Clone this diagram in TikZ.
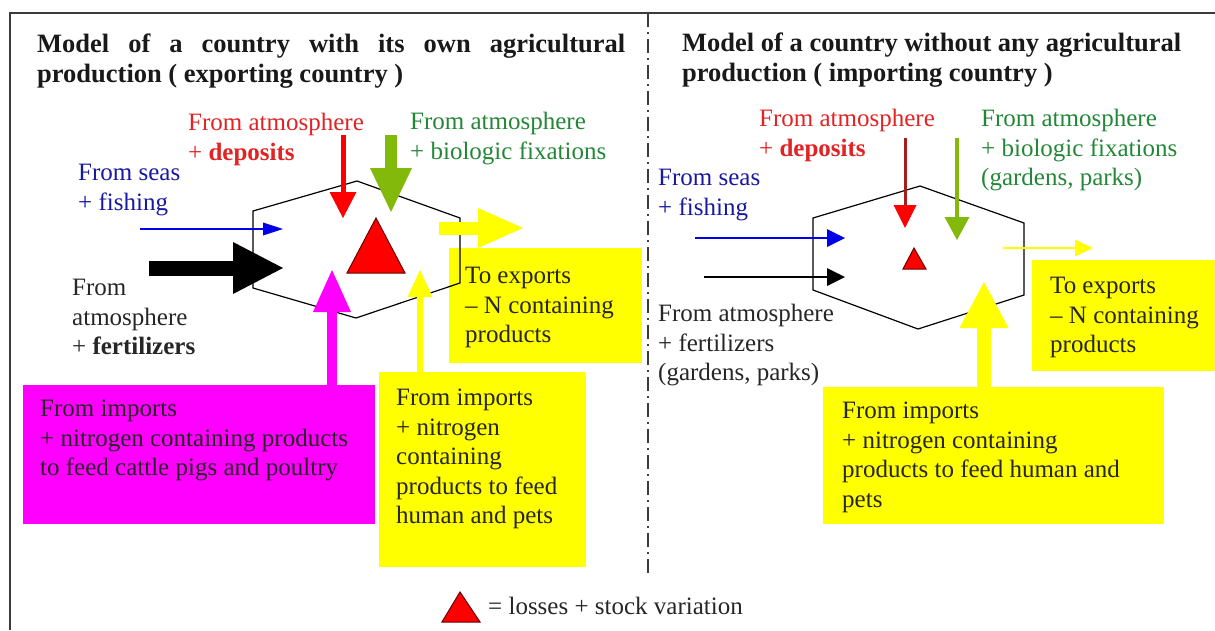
\documentclass[tikz,border=0pt]{standalone}
\usepackage{fontspec}
\setmainfont{Liberation Serif}
\usetikzlibrary{arrows.meta,positioning,calc}
\definecolor{txtred}{RGB}{225,35,35}
\definecolor{txtgreen}{RGB}{35,135,55}
\definecolor{txtblue}{RGB}{25,25,160}
\definecolor{arrgreen}{RGB}{130,185,10}
\definecolor{arrblue}{RGB}{0,0,235}
\definecolor{darkred}{RGB}{165,30,30}
\definecolor{boxyellow}{RGB}{255,255,0}
\definecolor{boxmagenta}{RGB}{255,0,255}
\definecolor{framegray}{RGB}{60,60,60}

\begin{document}
\begin{tikzpicture}[x=1pt,y=-1pt,
    lbl/.style={inner sep=0pt, anchor=north west, align=left, text=black!85,
        font=\fontsize{25}{29.5}\selectfont},
    ttl/.style={inner sep=0pt, anchor=north west, align=left, text=black!90,
        font=\fontsize{26.5}{29.5}\selectfont\bfseries},
    box/.style={inner sep=0pt, anchor=north west, fill=#1},
    hexa/.style={draw=black, line width=1.2pt, line join=miter},
    losstri/.style={fill=red, draw=black!60!red, line width=1pt}]
\useasboundingbox (0,0) rectangle (1215,630);

% frame and divider
\draw[framegray, line width=2pt] (10,630) -- (10,13) -- (1215,13);
\draw[framegray, line width=2pt, dash pattern=on 14pt off 5pt on 2pt off 5pt] (648,13) -- (648,575);

% titles
\node[ttl] (lTitle) at (37,34) {\makebox[588pt][s]{Model of a country with its own agricultural}\\production ( exporting country )};
\node[ttl] (rTitle) at (682,33) {Model of a country without any agricultural\\production ( importing country )};

% ---------- left: exporting country ----------
\node[box=boxyellow, minimum width=193pt, minimum height=115pt] (lExpBox) at (449,248) {};
\node[box=boxmagenta, minimum width=352pt, minimum height=139pt] (magBox) at (23,385) {};
\node[box=boxyellow, minimum width=207pt, minimum height=195pt] (lImpBox) at (379,372) {};

\node[lbl] (lExpTxt) at ([shift={(16,19)}]lExpBox.north west) {To exports\\– N containing\\products};
\node[lbl] (magTxt) at ([shift={(17,15)}]magBox.north west) {From imports\\+ nitrogen containing products\\to feed cattle pigs and poultry};
\node[lbl] (lImpTxt) at ([shift={(17,17)}]lImpBox.north west) {From imports\\+ nitrogen\\containing\\products to feed\\human and pets};

\node[lbl, text=txtred] (lRedLbl) at (188,113) {From atmosphere\\+ \textbf{deposits}};
\node[lbl, text=txtgreen] (lGrnLbl) at (410,112) {From atmosphere\\+ biologic fixations};
\node[lbl, text=txtblue] (lBluLbl) at (78,164) {From seas\\+ fishing};
\node[lbl] (lBlkLbl) at (72,279) {From\\atmosphere\\+ \textbf{fertilizers}};

\coordinate (lH1) at (357,181);
\coordinate (lH2) at (460,218);
\coordinate (lH3) at (460,283);
\coordinate (lH4) at (356,318);
\coordinate (lH5) at (253,288);
\coordinate (lH6) at (253,211);
\draw[hexa] (lH1) -- (lH2) -- (lH3) -- (lH4) -- (lH5) -- (lH6) -- cycle;

\draw[losstri] (347,273) -- (376,218) -- (405,273) -- cycle;

\coordinate (lRedS) at (343,135);  \coordinate (lRedT) at (343,218);
\coordinate (lGrnS) at (391,135);  \coordinate (lGrnT) at (391,212);
\coordinate (lBluS) at (140,229);  \coordinate (lBluT) at (283,229);
\coordinate (lBlkS) at (149,268);  \coordinate (lBlkT) at (283,268);
\coordinate (lExpS) at (439,228);  \coordinate (lExpT) at (523,228);
\coordinate (lMagT) at (332,270);
\coordinate (lImpT) at (420,270);

\draw[red, line width=5pt, -{Triangle[width=27pt,length=26pt,line width=0pt]}] (lRedS) -- (lRedT);
\draw[arrgreen, line width=12pt, -{Triangle[width=42pt,length=44pt,line width=0pt]}] (lGrnS) -- (lGrnT);
\draw[arrblue, line width=2pt, -{Triangle[width=13pt,length=20pt,line width=0pt]}] (lBluS) -- (lBluT);
\draw[black, line width=15pt, -{Triangle[width=52pt,length=50pt,line width=0pt]}] (lBlkS) -- (lBlkT);
\draw[boxyellow, line width=13pt, -{Triangle[width=40pt,length=45pt,line width=0pt]}] (lExpS) -- (lExpT);
\draw[boxmagenta, line width=10pt, -{Triangle[width=38pt,length=42pt,line width=0pt]}] (magBox.north -| lMagT) -- (lMagT);
\draw[boxyellow, line width=6pt, -{Triangle[width=25pt,length=27pt,line width=0pt]}] (lImpBox.north -| lImpT) -- (lImpT);

% ---------- right: importing country ----------
\node[box=boxyellow, minimum width=190pt, minimum height=111pt] (rExpBox) at (1032,260) {};
\node[box=boxyellow, minimum width=341pt, minimum height=137pt] (rImpBox) at (823,387) {};

\node[lbl] (rExpTxt) at ([shift={(18,17)}]rExpBox.north west) {To exports\\– N containing\\products};
\node[lbl] (rImpTxt) at ([shift={(19,15)}]rImpBox.north west) {From imports\\+ nitrogen containing\\products to feed human and\\pets};

\node[lbl, text=txtred] (rRedLbl) at (759,109) {From atmosphere\\+ \textbf{deposits}};
\node[lbl, text=txtgreen] (rGrnLbl) at (981,109) {From atmosphere\\+ biologic fixations\\(gardens, parks)};
\node[lbl, text=txtblue] (rBluLbl) at (658,169) {From seas\\+ fishing};
\node[lbl] (rBlkLbl) at (658,304) {From atmosphere\\+ fertilizers\\(gardens, parks)};

\coordinate (rH1) at (920,186);
\coordinate (rH2) at (1024,223);
\coordinate (rH3) at (1024,295);
\coordinate (rH4) at (918,329);
\coordinate (rH5) at (813,290);
\coordinate (rH6) at (813,218);
\draw[hexa] (rH1) -- (rH2) -- (rH3) -- (rH4) -- (rH5) -- (rH6) -- cycle;

\draw[losstri] (903,269) -- (914,248) -- (926,269) -- cycle;

\coordinate (rRedS) at (905,138);  \coordinate (rRedT) at (905,228);
\coordinate (rGrnS) at (957,138);  \coordinate (rGrnT) at (957,240);
\coordinate (rBluS) at (695,238);  \coordinate (rBluT) at (845,238);
\coordinate (rBlkS) at (704,277);  \coordinate (rBlkT) at (845,277);
\coordinate (rExpS) at (1003,248); \coordinate (rExpT) at (1093,248);
\coordinate (rImpT) at (984,282);

\draw[darkred, line width=3pt, -{Triangle[width=23pt,length=23pt,line width=0pt,color=red]}] (rRedS) -- (rRedT);
\draw[arrgreen, line width=4pt, -{Triangle[width=25pt,length=23pt,line width=0pt]}] (rGrnS) -- (rGrnT);
\draw[arrblue, line width=2pt, -{Triangle[width=18pt,length=18pt,line width=0pt]}] (rBluS) -- (rBluT);
\draw[black, line width=2pt, -{Triangle[width=18pt,length=18pt,line width=0pt]}] (rBlkS) -- (rBlkT);
\draw[boxyellow, line width=2pt, -{Triangle[width=17pt,length=18pt,line width=0pt]}] (rExpS) -- (rExpT);
\draw[boxyellow, line width=14pt, -{Triangle[width=49pt,length=46pt,line width=0pt]}] (rImpBox.north -| rImpT) -- (rImpT);

% legend
\draw[losstri] (442,622) -- (460,592) -- (480,622) -- cycle;
\node[lbl] (legTxt) at (488,597) {= losses + stock variation};
\end{tikzpicture}
\end{document}
